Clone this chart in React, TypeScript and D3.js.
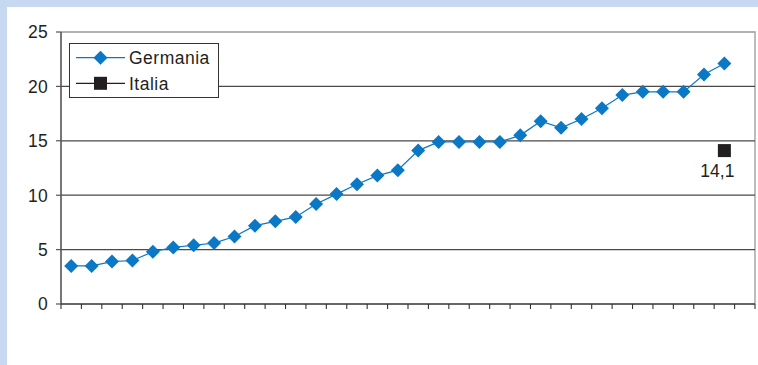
import React from "react";
import * as d3 from "d3";

const W = 758;
const H = 365;

// Series values (one per category; Italia only has the last one)
const germania: number[] = [
  3.5, 3.5, 3.9, 4.0, 4.8, 5.2, 5.4, 5.6, 6.2, 7.2, 7.6, 8.0, 9.2, 10.1, 11.0,
  11.8, 12.3, 14.1, 14.9, 14.9, 14.9, 14.9, 15.5, 16.8, 16.2, 17.0, 18.0, 19.2,
  19.5, 19.5, 19.5, 21.1, 22.1,
];
const italiaIndex: number[] = [32];
const italiaValues: number[] = [14.1];
const italiaLabels: string[] = ["14,1"];
const categoryCount = 34;
const yTicks: number[] = [0, 5, 10, 15, 20, 25];
const seriesNames: string[] = ["Germania", "Italia"];

const BLUE = "#0a78c5";
const DARK = "#231f20";
const FONT = "'Liberation Sans', Arial, sans-serif";

const margin = { left: 61, top: 32, right: 3, bottom: 61 };

export default function App() {
  const x = d3
    .scaleBand<number>()
    .domain(d3.range(categoryCount))
    .range([margin.left, W - margin.right]);
  const y = d3
    .scaleLinear()
    .domain([0, 25])
    .range([H - margin.bottom, margin.top]);

  const cx = (i: number) => (x(i) as number) + x.bandwidth() / 2;

  const line = d3
    .line<number>()
    .x((_, i) => cx(i))
    .y((d) => y(d));

  const diamond = (px: number, py: number, r: number) =>
    `M${px},${py - r}L${px + r},${py}L${px},${py + r}L${px - r},${py}Z`;

  const boundaries = d3.range(categoryCount + 1).map((i) =>
    i < categoryCount ? (x(i) as number) : W - margin.right
  );

  const x0 = margin.left;
  const x1 = W - margin.right;
  const yBottom = y(0);

  return (
    <div style={{ position: "fixed", left: 0, top: 0, width: W, height: H }}>
      <svg width={W} height={H} style={{ display: "block" }}>
        <rect x={0} y={0} width={W} height={H} fill="#c6d9f1" />
        <rect x={7} y={7} width={W - 7} height={H - 7} fill="#ffffff" />

        {/* frame on top and right */}
        <path
          d={`M${x0},${y(25)}H${x1}V${yBottom}`}
          fill="none"
          stroke="#9a9a9a"
          strokeWidth={1.3}
        />

        {/* horizontal gridlines */}
        {yTicks
          .filter((t) => t > 0 && t < 25)
          .map((t) => (
            <line
              key={t}
              x1={x0}
              x2={x1}
              y1={y(t)}
              y2={y(t)}
              stroke="#4a4a4a"
              strokeWidth={1.2}
            />
          ))}

        {/* y axis */}
        <line x1={x0} x2={x0} y1={y(25)} y2={yBottom} stroke="#555" strokeWidth={1.6} />
        {yTicks.map((t) => (
          <g key={t}>
            <line x1={x0 - 5} x2={x0} y1={y(t)} y2={y(t)} stroke="#555" strokeWidth={1.2} />
            <text
              x={48}
              y={y(t)}
              dy="0.36em"
              textAnchor="end"
              fontFamily={FONT}
              fontSize={17.5}
              letterSpacing={0.3}
              fill={DARK}
            >
              {t}
            </text>
          </g>
        ))}

        {/* x axis */}
        <line x1={x0} x2={x1} y1={yBottom} y2={yBottom} stroke="#333" strokeWidth={1.3} />
        {boundaries.map((bx, i) => (
          <line
            key={i}
            x1={bx}
            x2={bx}
            y1={yBottom}
            y2={yBottom + 5}
            stroke="#333"
            strokeWidth={1.1}
          />
        ))}

        {/* Germania */}
        <path d={line(germania) || ""} fill="none" stroke={BLUE} strokeWidth={1.2} />
        {germania.map((v, i) => (
          <path key={i} d={diamond(cx(i), y(v), 7)} fill={BLUE} />
        ))}

        {/* Italia */}
        {italiaIndex.map((idx, k) => (
          <g key={idx}>
            <rect
              x={cx(idx) - 6.5}
              y={y(italiaValues[k]) - 6.5}
              width={13}
              height={13}
              fill={DARK}
            />
            <text
              x={cx(idx) - 7}
              y={y(italiaValues[k]) + 26}
              textAnchor="middle"
              fontFamily={FONT}
              fontSize={17.5}
              fill={DARK}
            >
              {italiaLabels[k]}
            </text>
          </g>
        ))}

        {/* legend */}
        <rect x={69.5} y={43.5} width={149} height={54} fill="#fff" stroke="#333" strokeWidth={1} />
        {seriesNames.map((name, i) => {
          const ly = 57.7 + i * 25.6;
          const color = i === 0 ? BLUE : DARK;
          return (
            <g key={name}>
              <line x1={76} x2={125} y1={ly} y2={ly} stroke={color} strokeWidth={1.2} />
              {i === 0 ? (
                <path d={diamond(100.5, ly, 7)} fill={BLUE} />
              ) : (
                <rect x={94} y={ly - 6.5} width={13} height={13} fill={DARK} />
              )}
              <text
                x={129}
                y={ly}
                dy="0.36em"
                fontFamily={FONT}
                fontSize={17.5}
                letterSpacing={0.5}
                fill={DARK}
              >
                {name}
              </text>
            </g>
          );
        })}
      </svg>
    </div>
  );
}
